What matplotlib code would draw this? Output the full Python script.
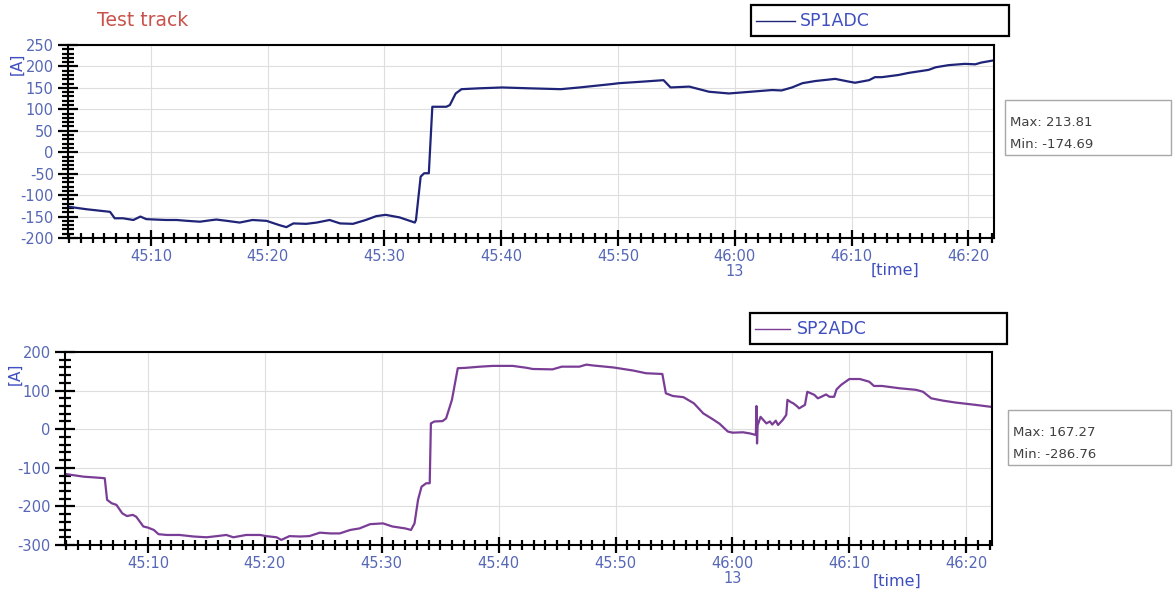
import matplotlib
matplotlib.use("Agg")
import matplotlib.pyplot as plt
from matplotlib.patches import Rectangle
from matplotlib.lines import Line2D
from matplotlib.ticker import MultipleLocator, FixedLocator, FixedFormatter

plt.rcParams['axes.unicode_minus'] = False
plt.rcParams['font.family'] = ['DejaVu Sans']

# ---------------- data ----------------
title_text = "Test track"
series_names = ["SP1ADC", "SP2ADC"]
unit_label = "[A]"
time_label = "[time]"
tick_labels = ["45:10", "45:20", "45:30", "45:40", "45:50", "46:00\n13", "46:10", "46:20"]
stats_sp1 = ["Max: 213.81", "Min: -174.69"]
stats_sp2 = ["Max: 167.27", "Min: -286.76"]

# time in seconds after 45:00
sp1_t = [2.9, 4.5, 6.5, 6.9, 7.6, 8.5, 9.1, 9.6, 10.4, 11.3, 12.2, 13.1, 14.2, 15.0, 15.6,
         16.5, 17.6, 18.7, 19.9, 21.0, 21.6, 22.2, 23.3, 24.2, 25.3, 26.2, 27.3, 28.4, 29.3,
         30.1, 31.3, 32.6, 32.7, 33.1, 33.4, 33.8, 34.1, 35.3, 35.6, 36.1, 36.6, 38.1, 40.1,
         42.4, 45.1, 46.7, 49.5, 50.1, 51.8, 53.9, 54.5, 56.1, 57.8, 59.5, 60.9, 63.2, 64.0,
         64.9, 65.8, 66.9, 68.6, 69.7, 70.3, 71.5, 72.0, 72.6, 74.0, 74.9, 76.6, 77.2, 78.3,
         79.7, 80.6, 81.1, 82.1]
sp1_v = [-127, -133, -139, -154, -154, -158, -150, -156, -157, -158, -158, -160, -162, -159, -157,
         -160, -164, -158, -160, -170, -174.7, -166, -167, -164, -158, -166, -167, -158, -149,
         -146, -152, -164, -158, -57, -49, -49, 106, 106, 110, 137, 147, 149, 151,
         149, 147, 151, 159, 161, 164, 168, 151, 153, 141, 137, 140, 145, 144,
         151, 161, 166, 171, 165, 162, 168, 175, 175, 180, 185, 192, 198, 203,
         206, 205, 209, 213.8]

sp2_t = [2.9, 4.5, 5.9, 6.3, 6.5, 6.9, 7.3, 7.8, 8.2, 8.7,
         9.0, 9.6, 10.0, 10.5, 10.9, 11.6, 12.7, 13.9, 15.0, 15.9,
         16.7, 17.3, 18.4, 19.6, 20.1, 21.0, 21.4, 22.1, 23.0, 23.8,
         24.7, 25.6, 26.4, 27.3, 28.1, 29.0, 30.1, 30.9, 32.0, 32.5,
         32.8, 33.1, 33.4, 33.8, 34.1, 34.2, 34.5, 35.2, 35.5, 36.0,
         36.5, 37.2, 38.4, 39.5, 41.2, 42.4, 42.9, 44.6, 45.4, 46.9,
         47.5, 48.1, 49.8, 51.5, 52.6, 54.0, 54.3, 54.9, 55.8, 56.7,
         57.5, 58.3, 58.9, 59.6, 60.0, 60.9, 61.5, 62.0, 62.05, 62.1,
         62.15, 62.4, 62.9, 63.2, 63.4, 63.7, 63.9, 64.3, 64.6, 64.7,
         65.0, 65.2, 65.5, 65.7, 66.2, 66.4, 67.0, 67.3, 67.6, 68.0,
         68.3, 68.7, 68.9, 69.3, 70.0, 70.9, 71.7, 72.1, 72.8, 74.3,
         75.7, 76.3, 77.0, 78.0, 79.1, 80.8, 82.1]
sp2_v = [-116, -123, -126, -127, -183, -192, -196, -218, -225, -222,
         -227, -252, -255, -261, -272, -274, -274, -278, -280, -277,
         -274, -280, -274, -274, -277, -280, -286.8, -277, -278, -277,
         -268, -270, -270, -261, -257, -246, -244, -252, -257, -261,
         -244, -183, -149, -140, -140, 15, 20, 21, 28, 76,
         158, 159, 162, 164, 164, 159, 156, 155, 162, 162,
         167.3, 165, 160, 152, 145, 143, 93, 86, 83, 67,
         41, 26, 14, -6, -9, -8, -11, -15, 60, -37,
         10, 32, 15, 20, 12, 22, 11, 24, 37, 76,
         70, 67, 60, 54, 63, 97, 89, 80, 84, 90,
         84, 84, 103, 115, 130, 130, 123, 112, 112, 106,
         102, 97, 80, 74, 69, 63, 58]

# ---------------- styling ----------------
W, H = 1174, 594
fig = plt.figure(figsize=(W / 100, H / 100), dpi=100)


def fx(x):
    return x / W


def fy(y):
    return 1 - y / H


tick_col = "#5667b5"
blue_txt = "#3f4fbf"
c1 = "#1f2478"
c2 = "#7a3d96"

tick_secs = []
for lab in tick_labels:
    m, s = lab.split("\n")[0].split(":")
    tick_secs.append((int(m) - 45) * 60 + int(s))


def setup(ax, ylim, ymajor, yminor):
    ax.set_xlim(2.9, 82.2)
    ax.set_ylim(*ylim)
    ax.xaxis.set_major_locator(FixedLocator(tick_secs))
    ax.xaxis.set_major_formatter(FixedFormatter(tick_labels))
    ax.xaxis.set_minor_locator(MultipleLocator(1))
    ax.yaxis.set_major_locator(MultipleLocator(ymajor))
    ax.yaxis.set_minor_locator(MultipleLocator(yminor))
    ax.tick_params(axis='x', which='major', direction='inout', length=12, width=1.6,
                   color='black', pad=2, labelsize=10.5, labelcolor=tick_col)
    ax.tick_params(axis='x', which='minor', direction='inout', length=6.5, width=1.6, color='black')
    ax.tick_params(axis='y', which='major', direction='inout', length=14.5, width=1.6,
                   color='black', pad=3, labelsize=10.5, labelcolor=tick_col)
    ax.tick_params(axis='y', which='minor', direction='inout', length=8, width=1.6, color='black')
    for lab in ax.get_xticklabels():
        lab.set_linespacing(0.95)
    ax.grid(True, which='major', color='#dedede', lw=0.8)
    ax.set_axisbelow(True)
    for s in ax.spines.values():
        s.set_linewidth(1.5)
        s.set_color('black')


ax1 = fig.add_axes([fx(68), fy(238), fx(994) - fx(68), fy(45) - fy(238)])
ax1.plot(sp1_t, sp1_v, color=c1, lw=1.6)
setup(ax1, (-200, 250), 50, 10)

ax2 = fig.add_axes([fx(65), fy(545), fx(992) - fx(65), fy(352) - fy(545)])
ax2.plot(sp2_t, sp2_v, color=c2, lw=1.6)
setup(ax2, (-300, 200), 100, 20)

# title
fig.text(fx(97), fy(21), title_text, color="#c9524c", fontsize=13.5, ha='left', va='center')

# unit labels
fig.text(fx(17), fy(64), unit_label, color=blue_txt, fontsize=11, rotation=90, ha='center', va='center')
fig.text(fx(15), fy(374), unit_label, color=blue_txt, fontsize=11, rotation=90, ha='center', va='center')

# time labels
fig.text(fx(895), fy(270), time_label, color=blue_txt, fontsize=11.5, ha='center', va='center')
fig.text(fx(897), fy(581), time_label, color=blue_txt, fontsize=11.5, ha='center', va='center')


def legend_box(x0, y0, x1, y1, lx0, lx1, tx, name, col):
    fig.add_artist(Rectangle((fx(x0), fy(y1)), fx(x1) - fx(x0), fy(y0) - fy(y1),
                             transform=fig.transFigure, fill=False, ec='black', lw=1.6))
    yc = (y0 + y1) / 2
    fig.add_artist(Line2D([fx(lx0), fx(lx1)], [fy(yc), fy(yc)], transform=fig.transFigure,
                          color=col, lw=1.0))
    fig.text(fx(tx), fy(yc), name, color=blue_txt, fontsize=12.5, ha='left', va='center')


def stats_box(x0, y0, x1, y1, lines):
    fig.add_artist(Rectangle((fx(x0), fy(y1)), fx(x1) - fx(x0), fy(y0) - fy(y1),
                             transform=fig.transFigure, fill=False, ec='#a8a8a8', lw=1.0))
    fig.text(fx(x0 + 5), fy(y0 + 22), lines[0], color='#404040', fontsize=9.5, ha='left', va='center')
    fig.text(fx(x0 + 5), fy(y0 + 44), lines[1], color='#404040', fontsize=9.5, ha='left', va='center')


legend_box(751, 5, 1009, 36, 756, 795, 800, series_names[0], c1)
legend_box(750, 313, 1007, 344, 755, 790, 797, series_names[1], c2)
stats_box(1005, 100, 1171, 155, stats_sp1)
stats_box(1008, 410, 1171, 465, stats_sp2)

fig.savefig("out.png", dpi=100, facecolor='white')
